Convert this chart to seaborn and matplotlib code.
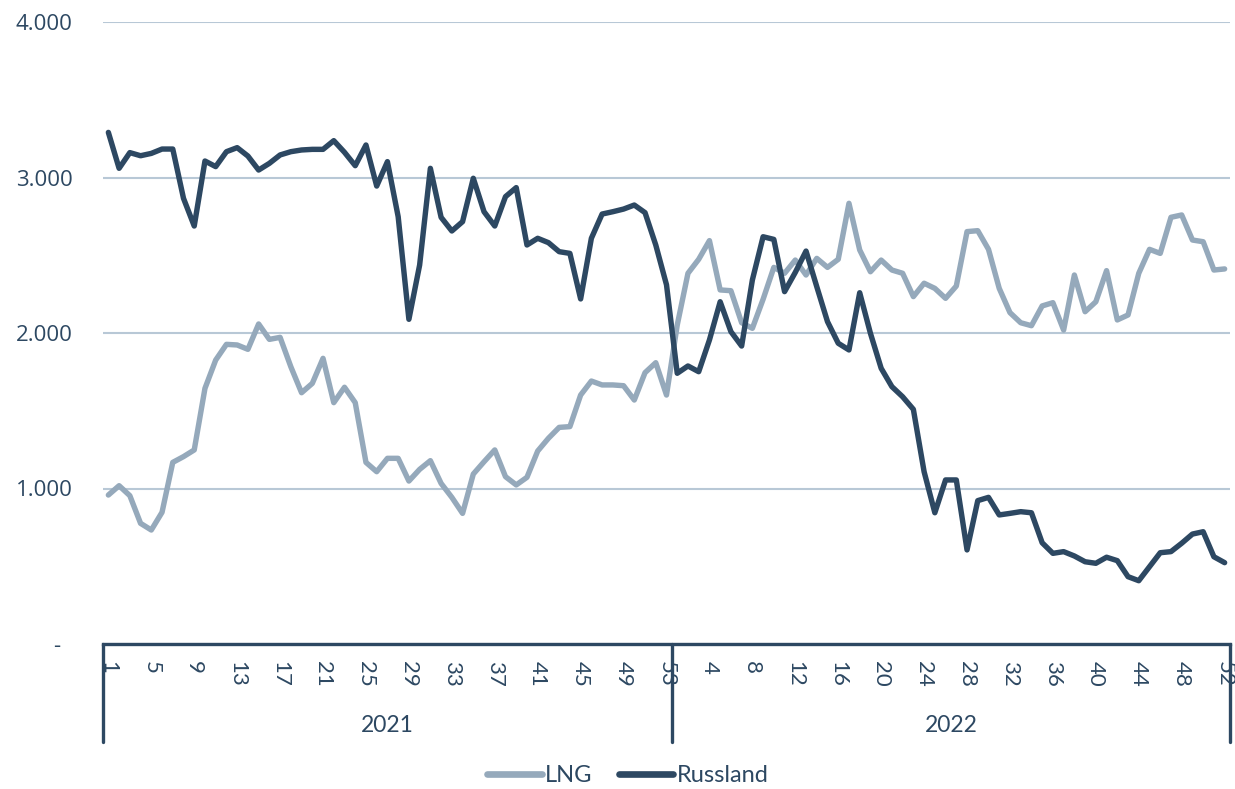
import numpy as np
import pandas as pd
import seaborn as sns
from matplotlib import pyplot as plt
from matplotlib.lines import Line2D

# weekly values, 2021 (weeks 1-53) and 2022 (weeks 1-52)
weeks_2021 = list(range(1, 54))
weeks_2022 = list(range(1, 53))

lng_2021 = [958, 1018, 954, 776, 733, 847, 1168, 1205, 1248, 1644,
            1826, 1927, 1923, 1895, 2058, 1959, 1972, 1783, 1616, 1676,
            1837, 1552, 1651, 1552, 1168, 1108, 1194, 1194, 1048, 1123,
            1179, 1033, 943, 840, 1093, 1172, 1248, 1076, 1023, 1072,
            1241, 1323, 1393, 1398, 1601, 1691, 1666, 1666, 1661, 1569,
            1745, 1809, 1601]
lng_2022 = [2051, 2384, 2474, 2594, 2277, 2272, 2066, 2030, 2217, 2422,
            2384, 2469, 2373, 2480, 2422, 2474, 2834, 2534, 2394, 2469,
            2405, 2384, 2234, 2320, 2287, 2223, 2302, 2652, 2658, 2538,
            2287, 2131, 2066, 2047, 2174, 2195, 2019, 2373, 2137, 2201,
            2401, 2084, 2116, 2384, 2538, 2512, 2744, 2759, 2598, 2587,
            2405, 2412]

russ_2021 = [3290, 3059, 3160, 3140, 3155, 3183, 3183, 2866, 2688, 3106,
             3070, 3166, 3192, 3138, 3048, 3091, 3145, 3166, 3177, 3181,
             3181, 3237, 3162, 3076, 3209, 2945, 3102, 2748, 2088, 2437,
             3059, 2744, 2656, 2716, 2995, 2780, 2688, 2877, 2935, 2566,
             2609, 2581, 2523, 2512, 2219, 2609, 2765, 2780, 2797, 2823,
             2774, 2566, 2310]
russ_2022 = [1741, 1788, 1751, 1955, 2201, 2009, 1916, 2341, 2619, 2602,
             2266, 2390, 2527, 2298, 2073, 1934, 1891, 2259, 1998, 1773,
             1655, 1590, 1509, 1108, 844, 1055, 1055, 605, 922, 943,
             830, 840, 851, 844, 651, 583, 594, 566, 529, 519,
             558, 536, 433, 407, 497, 587, 594, 648, 707, 722,
             561, 523]

years = ['2021', '2022']
y_ticks = [0, 1000, 2000, 3000, 4000]
y_labels = ['-  ', '1.000', '2.000', '3.000', '4.000']

col_lng = '#95A9BB'
col_russ = '#2D4862'
col_text = '#2D4862'
col_grid = '#B8C8D6'

sns.set_style('white')
plt.rcParams['font.family'] = ['Lato', 'DejaVu Sans']

week_labels = [str(w) for w in weeks_2021] + [str(w) for w in weeks_2022]
n = len(week_labels)
pos = np.arange(n)

df = pd.DataFrame({
    'pos': np.concatenate([pos, pos]),
    'value': lng_2021 + lng_2022 + russ_2021 + russ_2022,
    'series': ['LNG'] * n + ['Russland'] * n,
})

fig = plt.figure(figsize=(12.35, 7.89), dpi=100)
ax = fig.add_axes([103 / 1235, 1 - 644 / 789, 1127 / 1235, 622 / 789])

sns.lineplot(data=df, x='pos', y='value', hue='series',
             palette={'LNG': col_lng, 'Russland': col_russ},
             linewidth=3.9, ax=ax, legend=False, zorder=3)
for ln in ax.get_lines():
    ln.set_solid_joinstyle('round')
    ln.set_solid_capstyle('round')

ax.set_xlim(-0.5, n - 0.5)
ax.set_ylim(0, 4000)
ax.set_yticks(y_ticks)
ax.set_yticklabels(y_labels, fontfamily='Open Sans')
ax.yaxis.grid(True, color=col_grid, linewidth=1.5)
ax.set_axisbelow(True)

# every 4th week, per year
tick_idx = [i for i, w in enumerate(weeks_2021) if (w - 1) % 4 == 0]
tick_idx += [len(weeks_2021) + i for i, w in enumerate(weeks_2022) if w % 4 == 0]
ax.set_xticks(tick_idx)
ax.set_xticklabels([week_labels[i] for i in tick_idx], rotation=270,
                   ha='center', va='top')

ax.tick_params(axis='x', length=0, pad=12, labelsize=16, labelcolor=col_text)
ax.tick_params(axis='y', length=0, pad=22, labelsize=16, labelcolor=col_text)
ax.set_xlabel('')
ax.set_ylabel('')

for s in ['top', 'right', 'left']:
    ax.spines[s].set_visible(False)
ax.spines['bottom'].set_color(col_russ)
ax.spines['bottom'].set_linewidth(2.4)

# year separators and labels below the axis
trans = ax.get_xaxis_transform()
for xb in [-0.5, len(weeks_2021) - 0.5, n - 0.5]:
    ax.plot([xb, xb], [0, -98 / 622], color=col_russ, linewidth=2.4,
            transform=trans, clip_on=False)
ax.text((len(weeks_2021) - 1) / 2, -81 / 622, years[0], transform=trans,
        ha='center', va='center', fontsize=16.5, color=col_text)
ax.text(len(weeks_2021) + (len(weeks_2022) - 1) / 2, -81 / 622, years[1],
        transform=trans, ha='center', va='center', fontsize=16.5, color=col_text)

handles = [Line2D([], [], color=col_lng, linewidth=4.8, solid_capstyle='round'),
           Line2D([], [], color=col_russ, linewidth=4.8, solid_capstyle='round')]
leg = fig.legend(handles, ['LNG', 'Russland'], loc='center',
                 bbox_to_anchor=(628 / 1235, 1 - 776 / 789), ncol=2,
                 frameon=False, fontsize=17, handlelength=2.3,
                 handletextpad=0.15, columnspacing=1.1)
for t in leg.get_texts():
    t.set_color(col_text)

fig.savefig('out.png', dpi=100)
